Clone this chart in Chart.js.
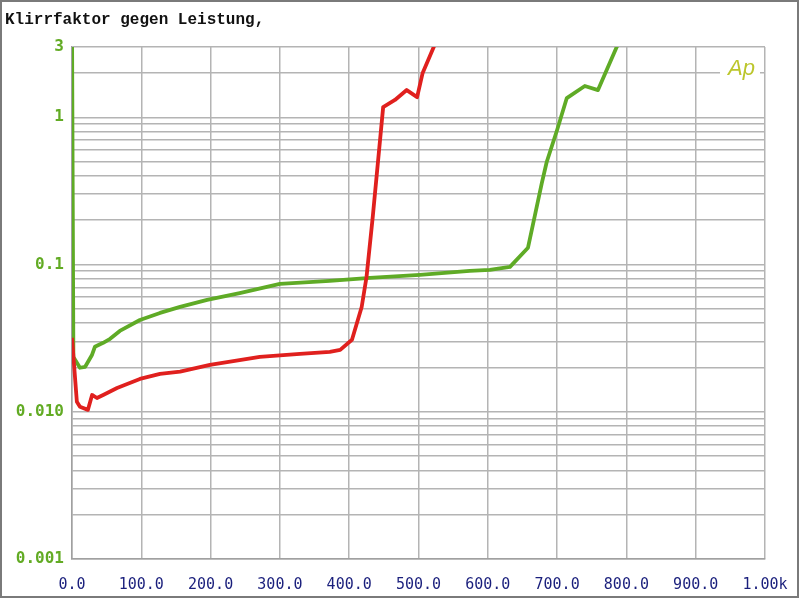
<!DOCTYPE html>
<html>
<head>
<meta charset="utf-8">
<script src="https://cdn.jsdelivr.net/npm/chart.js@4.4.1/dist/chart.umd.min.js"></script>
<style>
  html, body { margin: 0; padding: 0; background: #ffffff; }
  #wrap { width: 800px; height: 599px; }
</style>
</head>
<body>
<div id="wrap"><canvas id="thdChart" width="800" height="599"></canvas></div>
<script>
// Leistung (x) and Klirrfaktor (y)
const redX = [0, 7, 11.5, 23, 29, 36, 45, 65, 98, 127, 156, 199, 271, 329, 372, 387, 404, 418, 425, 434, 449, 466, 483, 498, 506, 522, 540];
const redY = [0.0318, 0.0117, 0.0108, 0.0103, 0.0130, 0.0124, 0.0130, 0.0145, 0.0167, 0.0181, 0.0187, 0.0208, 0.0236, 0.0247, 0.0255, 0.0263, 0.0308, 0.0515, 0.0823, 0.211, 1.17, 1.31, 1.53, 1.37, 2.0, 3.0, 4.5];

const greenX = [0, 2, 11.5, 19, 29, 33, 45, 55, 69, 98, 127, 156, 195, 242, 300, 372, 430, 502, 574, 603, 632, 658, 678, 685, 700, 714, 740, 759, 786, 800];
const greenY = [4.5, 0.0235, 0.0199, 0.0202, 0.0244, 0.0276, 0.0294, 0.0313, 0.0354, 0.042, 0.0469, 0.0515, 0.0575, 0.064, 0.0738, 0.0774, 0.0811, 0.085, 0.0905, 0.092, 0.0964, 0.130, 0.358, 0.497, 0.819, 1.35, 1.63, 1.53, 3.0, 4.0];

const yLabelValues = [3, 1, 0.1, 0.01, 0.001];
const yLabelTexts = ["3", "1", "0.1", "0.010", "0.001"];

const xTickValues = [0, 100, 200, 300, 400, 500, 600, 700, 800, 900, 1000];
const xTickTexts = ["0.0", "100.0", "200.0", "300.0", "400.0", "500.0", "600.0", "700.0", "800.0", "900.0", "1.00k"];

const titleText = "Klirrfaktor gegen Leistung,";

(function () {
  const toPoints = (xs, ys) => xs.map((x, i) => ({ x: x, y: ys[i] }));

  // grid lines at every 1..9 of each decade, up to 3
  const yGridValues = [];
  [0.001, 0.01, 0.1, 1].forEach((d) => {
    for (let m = 1; m <= 9; m++) {
      const v = +(d * m).toPrecision(3);
      if (v <= 3) yGridValues.push(v);
    }
  });

  const frameAndText = {
    id: "frameAndText",
    beforeDraw(chart) {
      const ctx = chart.ctx;
      ctx.save();
      ctx.fillStyle = "#ffffff";
      ctx.fillRect(0, 0, chart.width, chart.height);
      ctx.restore();
    },
    afterDatasetsDraw(chart) {
      const ctx = chart.ctx;
      const area = chart.chartArea;
      ctx.save();

      // logo box
      ctx.fillStyle = "#ffffff";
      ctx.fillRect(area.right - 45, area.top + 4, 40, 30);
      ctx.fillStyle = "#bcc62c";
      ctx.font = "italic 22px 'Liberation Sans', sans-serif";
      ctx.textBaseline = "alphabetic";
      ctx.textAlign = "left";
      ctx.fillText("Ap", area.right - 37, area.top + 28);

      // title
      ctx.fillStyle = "#111111";
      ctx.font = "bold 16px 'Liberation Mono', 'DejaVu Sans Mono', monospace";
      ctx.textBaseline = "middle";
      ctx.fillText(titleText, 5, 20);

      // outer frame
      ctx.strokeStyle = "#7a7a7a";
      ctx.lineWidth = 2;
      ctx.strokeRect(1, 1, chart.width - 3, chart.height - 3);
      ctx.restore();
    },
  };

  const ctx = document.getElementById("thdChart").getContext("2d");

  new Chart(ctx, {
    type: "line",
    data: {
      datasets: [
        {
          label: "rot",
          data: toPoints(redX, redY),
          borderColor: "#e0201e",
          borderWidth: 3.8,
          pointRadius: 0,
          tension: 0,
          borderJoinStyle: "round",
        },
        {
          label: "grün",
          data: toPoints(greenX, greenY),
          borderColor: "#5fab26",
          borderWidth: 3.8,
          pointRadius: 0,
          tension: 0,
          borderJoinStyle: "round",
        },
      ],
    },
    options: {
      responsive: false,
      animation: false,
      events: [],
      layout: {
        padding: { top: 47, right: 35, left: 0, bottom: 0 },
      },
      plugins: {
        legend: { display: false },
        title: { display: false },
        tooltip: { enabled: false },
      },
      scales: {
        x: {
          type: "linear",
          min: 0,
          max: 1000,
          afterFit(scale) {
            scale.height = 40;
            scale.paddingLeft = 0;
            scale.paddingRight = 0;
          },
          afterBuildTicks(scale) {
            scale.ticks = xTickValues.map((v) => ({ value: v }));
          },
          grid: {
            color: "#b4b4b4",
            lineWidth: 1.5,
            drawTicks: false,
          },
          border: { display: true, color: "#a0a0a0", width: 1.5 },
          ticks: {
            autoSkip: false,
            maxRotation: 0,
            padding: 17,
            color: "#1a1f7c",
            font: { family: "'DejaVu Sans Mono', monospace", size: 15 },
            callback(value) {
              const i = xTickValues.indexOf(value);
              return i >= 0 ? xTickTexts[i] : "";
            },
          },
        },
        y: {
          type: "logarithmic",
          min: 0.001,
          max: 3,
          afterFit(scale) {
            scale.width = 72;
            scale.paddingTop = 0;
            scale.paddingBottom = 0;
          },
          afterBuildTicks(scale) {
            scale.ticks = yGridValues.map((v) => ({ value: v }));
          },
          grid: {
            color: "#b4b4b4",
            lineWidth: 1.5,
            drawTicks: false,
          },
          border: { display: true, color: "#a0a0a0", width: 1.5 },
          ticks: {
            autoSkip: false,
            padding: 8,
            color: "#62ab24",
            font: { family: "'DejaVu Sans Mono', monospace", size: 16, weight: "bold" },
            callback(value) {
              for (let i = 0; i < yLabelValues.length; i++) {
                if (Math.abs(value - yLabelValues[i]) < yLabelValues[i] * 1e-6) return yLabelTexts[i];
              }
              return "";
            },
          },
        },
      },
    },
    plugins: [frameAndText],
  });
})();
</script>
</body>
</html>
